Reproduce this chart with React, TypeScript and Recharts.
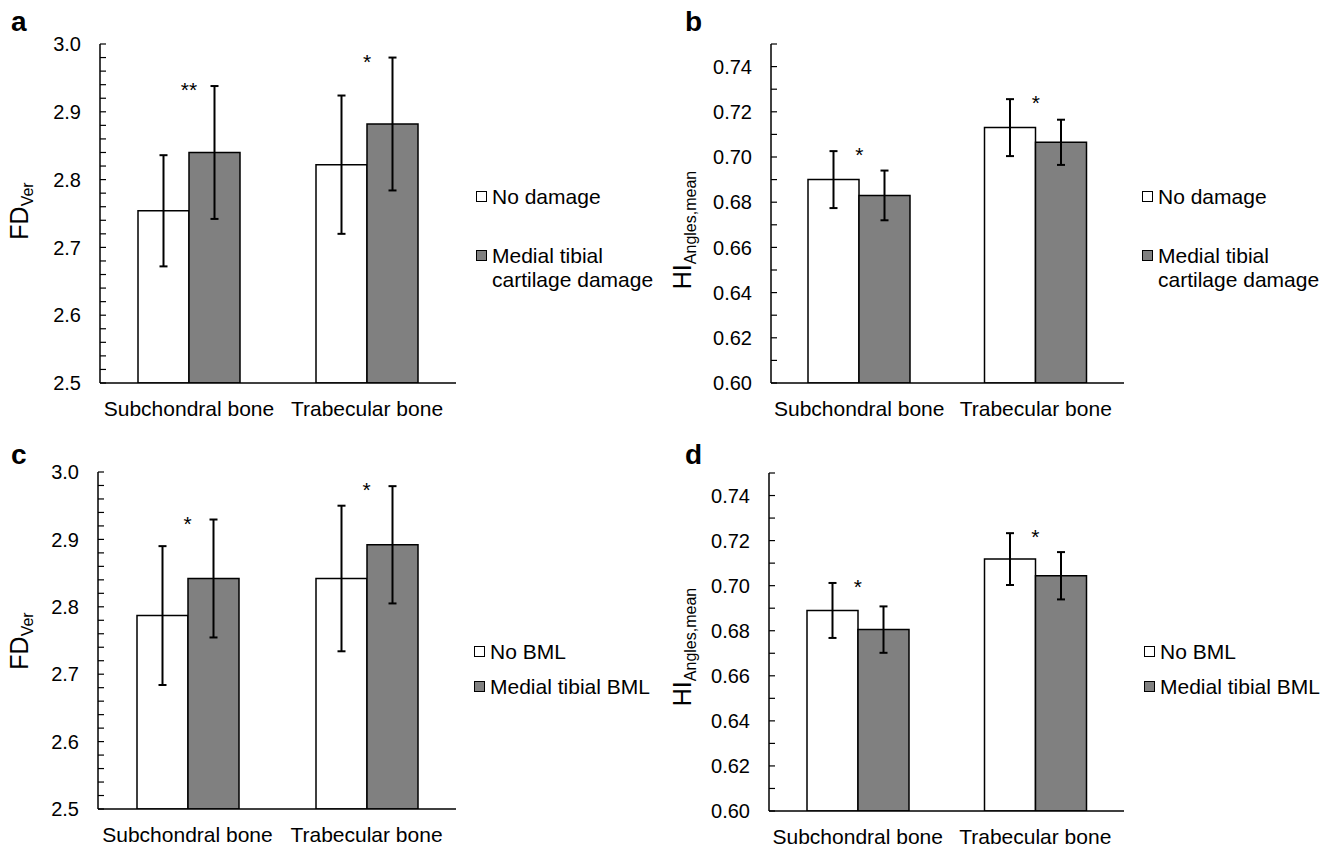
import { Bar, ComposedChart, ErrorBar, Legend, Line, XAxis, YAxis } from "recharts";

const categories = ["Subchondral bone", "Trabecular bone"];

// panel a: FD_Ver, cartilage damage
const fdNoDamage = [2.754, 2.822];
const fdNoDamageSd = [0.082, 0.102];
const fdDamage = [2.84, 2.882];
const fdDamageSd = [0.098, 0.098];
const fdDamageStars = ["**", "*"];

// panel b: HI_Angles,mean, cartilage damage
const hiNoDamage = [0.69, 0.713];
const hiNoDamageSd = [0.0126, 0.0126];
const hiDamage = [0.683, 0.7065];
const hiDamageSd = [0.011, 0.01];
const hiDamageStars = ["*", "*"];

// panel c: FD_Ver, BML
const fdNoBml = [2.787, 2.842];
const fdNoBmlSd = [0.103, 0.108];
const fdBml = [2.842, 2.892];
const fdBmlSd = [0.0875, 0.087];
const fdBmlStars = ["*", "*"];

// panel d: HI_Angles,mean, BML
const hiNoBml = [0.689, 0.7118];
const hiNoBmlSd = [0.0122, 0.0115];
const hiBml = [0.6805, 0.7044];
const hiBmlSd = [0.0103, 0.0105];
const hiBmlStars = ["*", "*"];

const damageNames = ["No damage", "Medial tibial cartilage damage"];
const bmlNames = ["No BML", "Medial tibial BML"];

const fdTicks = [
  2.5, 2.52, 2.54, 2.56, 2.58, 2.6, 2.62, 2.64, 2.66, 2.68, 2.7, 2.72, 2.74,
  2.76, 2.78, 2.8, 2.82, 2.84, 2.86, 2.88, 2.9, 2.92, 2.94, 2.96, 2.98, 3.0,
];
const fdLabels = [2.5, 2.6, 2.7, 2.8, 2.9, 3.0];
const hiTicks = [
  0.6, 0.61, 0.62, 0.63, 0.64, 0.65, 0.66, 0.67, 0.68, 0.69, 0.7, 0.71, 0.72,
  0.73, 0.74, 0.75,
];
const hiLabels = [0.6, 0.62, 0.64, 0.66, 0.68, 0.7, 0.72, 0.74];

const FONT = "'Liberation Sans', Arial, Helvetica, sans-serif";
const GRAY = "#808080";

function buildRows(a: number[], aSd: number[], b: number[], bSd: number[], stars: string[]) {
  return categories.map((cat, i) => ({
    cat,
    a: a[i],
    aSd: aSd[i],
    b: b[i],
    bSd: bSd[i],
    star: stars[i],
    starY: Math.max(a[i] + aSd[i], b[i] + bSd[i]),
  }));
}

function YTitle(props: any) {
  const { tx, ty, main, sub } = props;
  return (
    <text
      x={tx}
      y={ty}
      transform={`rotate(-90, ${tx}, ${ty})`}
      textAnchor="middle"
      fontSize={25}
      fill="#000"
    >
      {main}
      <tspan fontSize={16} dy={5}>
        {sub}
      </tspan>
    </text>
  );
}

function LegendBox(props: any) {
  const { payload, gap, textWidth, order } = props;
  const items = (payload || [])
    .filter((p: any) => p.type !== "none")
    .sort((x: any, y: any) => order.indexOf(x.value) - order.indexOf(y.value));
  return (
    <div style={{ fontFamily: FONT, color: "#000" }}>
      {items.map((p: any, i: number) => (
        <div
          key={i}
          style={{ display: "flex", alignItems: "flex-start", marginTop: i ? gap : 0 }}
        >
          <span
            style={{
              width: 9,
              height: 9,
              border: "1.5px solid #000",
              background: p.payload?.fill || p.color,
              marginTop: 6,
              marginRight: 5,
              flex: "none",
            }}
          />
          <span style={{ fontSize: 21, lineHeight: "24px", width: textWidth }}>{p.value}</span>
        </div>
      ))}
    </div>
  );
}

type PanelProps = {
  letter: string;
  left: number;
  top: number;
  width: number;
  height: number;
  margin: { top: number; right: number; left: number; bottom: number };
  xHeight: number;
  rows: any[];
  names: string[];
  domain: [number, number];
  ticks: number[];
  labels: number[];
  digits: number;
  title: { main: string; sub: string; x: number; y: number };
  legend: { left: number; top: number; gap: number };
  letterPos: { x: number; y: number };
};

function Panel(p: PanelProps) {
  return (
    <div style={{ position: "absolute", left: p.left, top: p.top, width: p.width, height: p.height }}>
      <div
        style={{
          position: "absolute",
          left: p.letterPos.x,
          top: p.letterPos.y,
          fontSize: 28,
          fontWeight: "bold",
          lineHeight: "28px",
        }}
      >
        {p.letter}
      </div>
      <ComposedChart width={p.width} height={p.height} data={p.rows} margin={p.margin} barGap={0}>
        <XAxis
          dataKey="cat"
          height={p.xHeight}
          tickLine={false}
          tickSize={0}
          tickMargin={18}
          axisLine={{ stroke: "#000", strokeWidth: 1.5 }}
          tick={{ fontSize: 21, fill: "#000" }}
          interval={0}
        />
        <XAxis
          xAxisId="top"
          orientation="top"
          dataKey="cat"
          height={0}
          tick={false}
          tickLine={false}
          axisLine={{ stroke: "#000", strokeWidth: 1.5 }}
        />
        <YAxis
          type="number"
          width={80}
          domain={p.domain}
          ticks={p.ticks}
          interval={0}
          allowDataOverflow
          tickSize={-6}
          tickMargin={25}
          tickLine={{ stroke: "#000", strokeWidth: 1.2 }}
          axisLine={{ stroke: "#000", strokeWidth: 1.5 }}
          tick={{ fontSize: 20, fill: "#000" }}
          tickFormatter={(v: number) =>
            p.labels.some((l) => Math.abs(l - v) < 1e-9) ? v.toFixed(p.digits) : ""
          }
          label={<YTitle tx={p.title.x} ty={p.title.y} main={p.title.main} sub={p.title.sub} />}
        />
        <YAxis
          yAxisId="right"
          orientation="right"
          type="number"
          width={0}
          domain={p.domain}
          tick={false}
          tickLine={false}
          axisLine={{ stroke: "#000", strokeWidth: 1.5 }}
        />
        <Bar
          dataKey="a"
          name={p.names[0]}
          fill="#ffffff"
          stroke="#000"
          strokeWidth={1.5}
          barSize={51}
          isAnimationActive={false}
        >
          <ErrorBar dataKey="aSd" width={4} stroke="#000" strokeWidth={2} />
        </Bar>
        <Bar
          dataKey="b"
          name={p.names[1]}
          fill={GRAY}
          stroke="#000"
          strokeWidth={1.5}
          barSize={51}
          isAnimationActive={false}
        >
          <ErrorBar dataKey="bSd" width={4} stroke="#000" strokeWidth={2} />
        </Bar>
        <Line
          dataKey="starY"
          stroke="none"
          dot={false}
          activeDot={false}
          legendType="none"
          isAnimationActive={false}
          label={(lp: any) => (
            <text
              key={`star-${lp.index}`}
              x={lp.x}
              y={lp.y + 11}
              textAnchor="middle"
              fontSize={21}
              fill="#000"
            >
              {p.rows[lp.index]?.star}
            </text>
          )}
        />
        <Legend
          layout="vertical"
          align="center"
          verticalAlign="middle"
          wrapperStyle={{ left: p.legend.left, top: p.legend.top, width: 190 }}
          content={<LegendBox gap={p.legend.gap} textWidth={172} order={p.names} />}
        />
      </ComposedChart>
    </div>
  );
}

export default function App() {
  return (
    <div
      style={{
        position: "absolute",
        left: 0,
        top: 0,
        width: 1336,
        height: 849,
        background: "#fff",
        fontFamily: FONT,
        color: "#000",
      }}
    >
      <Panel
        letter="a"
        left={0}
        top={0}
        width={660}
        height={420}
        margin={{ top: 44, right: 204, left: 20, bottom: 0 }}
        xHeight={37}
        rows={buildRows(fdNoDamage, fdNoDamageSd, fdDamage, fdDamageSd, fdDamageStars)}
        names={damageNames}
        domain={[2.5, 3.0]}
        ticks={fdTicks}
        labels={fdLabels}
        digits={1}
        title={{ main: "FD", sub: "Ver", x: 28, y: 211 }}
        legend={{ left: 476, top: 185, gap: 35 }}
        letterPos={{ x: 11, y: 8 }}
      />
      <Panel
        letter="b"
        left={660}
        top={0}
        width={676}
        height={420}
        margin={{ top: 44, right: 212, left: 31, bottom: 0 }}
        xHeight={37}
        rows={buildRows(hiNoDamage, hiNoDamageSd, hiDamage, hiDamageSd, hiDamageStars)}
        names={damageNames}
        domain={[0.6, 0.75]}
        ticks={hiTicks}
        labels={hiLabels}
        digits={2}
        title={{ main: "HI", sub: "Angles,mean", x: 31, y: 230 }}
        legend={{ left: 482, top: 185, gap: 35 }}
        letterPos={{ x: 25, y: 8 }}
      />
      <Panel
        letter="c"
        left={0}
        top={420}
        width={660}
        height={429}
        margin={{ top: 52, right: 204, left: 18, bottom: 0 }}
        xHeight={40}
        rows={buildRows(fdNoBml, fdNoBmlSd, fdBml, fdBmlSd, fdBmlStars)}
        names={bmlNames}
        domain={[2.5, 3.0]}
        ticks={fdTicks}
        labels={fdLabels}
        digits={1}
        title={{ main: "FD", sub: "Ver", x: 28, y: 641 - 420 }}
        legend={{ left: 474, top: 220, gap: 11 }}
        letterPos={{ x: 11, y: 21 }}
      />
      <Panel
        letter="d"
        left={660}
        top={420}
        width={676}
        height={429}
        margin={{ top: 53, right: 212, left: 29, bottom: 0 }}
        xHeight={38}
        rows={buildRows(hiNoBml, hiNoBmlSd, hiBml, hiBmlSd, hiBmlStars)}
        names={bmlNames}
        domain={[0.6, 0.75]}
        ticks={hiTicks}
        labels={hiLabels}
        digits={2}
        title={{ main: "HI", sub: "Angles,mean", x: 31, y: 647 - 420 }}
        legend={{ left: 484, top: 220, gap: 11 }}
        letterPos={{ x: 25, y: 21 }}
      />
    </div>
  );
}
